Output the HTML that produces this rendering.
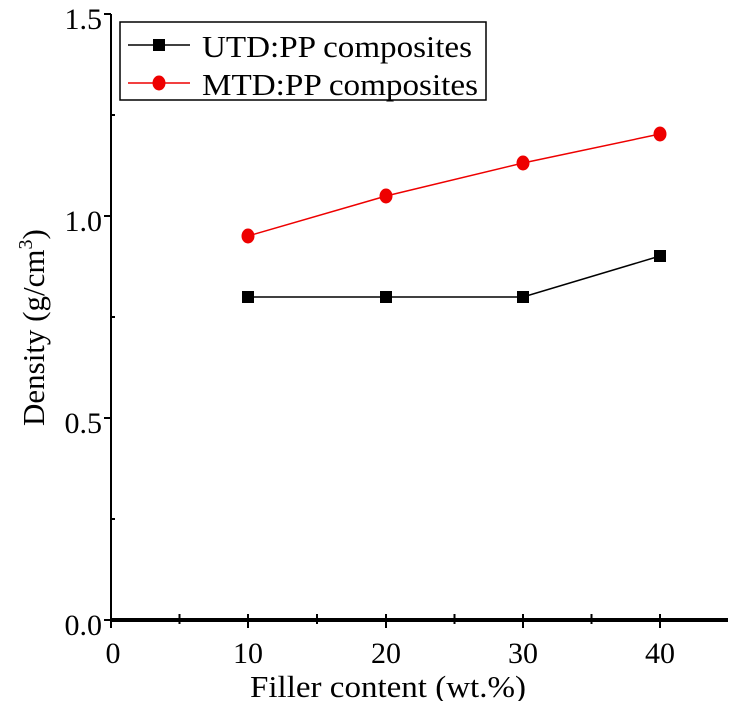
<!DOCTYPE html><html><head><style>body{margin:0;background:#fff}svg{display:block}text{font-family:"Liberation Serif",serif;fill:#000}</style></head><body>
<svg width="730" height="701" viewBox="0 0 730 701">
<line x1="111" y1="14" x2="111" y2="622" stroke="#000" stroke-width="2"/>
<line x1="104" y1="14" x2="111" y2="14" stroke="#000" stroke-width="2"/>
<line x1="104" y1="216" x2="111" y2="216" stroke="#000" stroke-width="2"/>
<line x1="104" y1="418" x2="111" y2="418" stroke="#000" stroke-width="2"/>
<line x1="104" y1="620" x2="111" y2="620" stroke="#000" stroke-width="2"/>
<line x1="111" y1="115" x2="115" y2="115" stroke="#000" stroke-width="2"/>
<line x1="111" y1="317" x2="115" y2="317" stroke="#000" stroke-width="2"/>
<line x1="111" y1="519" x2="115" y2="519" stroke="#000" stroke-width="2"/>
<line x1="110" y1="620" x2="728" y2="620" stroke="#000" stroke-width="4"/>
<g stroke="#000" stroke-width="2">
<line x1="111" y1="620" x2="111" y2="628"/><line x1="179.5" y1="614" x2="179.5" y2="624"/>
<line x1="248" y1="614" x2="248" y2="628"/><line x1="317" y1="614" x2="317" y2="624"/>
<line x1="386" y1="614" x2="386" y2="628"/><line x1="454.5" y1="614" x2="454.5" y2="624"/>
<line x1="523" y1="614" x2="523" y2="628"/><line x1="591.5" y1="614" x2="591.5" y2="624"/>
<line x1="660" y1="614" x2="660" y2="628"/>
</g>
<g font-size="30" text-anchor="end">
<text x="102" y="29">1.5</text><text x="102" y="231">1.0</text><text x="102" y="433">0.5</text><text x="102" y="635">0.0</text>
</g>
<g font-size="30" text-anchor="middle">
<text x="113" y="663">0</text><text x="248" y="663">10</text><text x="386" y="663">20</text><text x="523" y="663">30</text><text x="660" y="663">40</text>
</g>
<text x="250" y="697" font-size="31" textLength="276" lengthAdjust="spacingAndGlyphs">Filler content (wt.%)</text>
<text font-size="31" transform="translate(44,426) rotate(-90)">Density (g/cm<tspan font-size="20" dy="-12">3</tspan><tspan dy="12">)</tspan></text>
<polyline points="248,297 386,297 523,297 660,256" fill="none" stroke="#000" stroke-width="1.5"/>
<g fill="#000"><rect x="242" y="291" width="12" height="12"/><rect x="380" y="291" width="12" height="12"/><rect x="517" y="291" width="12" height="12"/><rect x="654" y="250" width="12" height="12"/></g>
<polyline points="248,236 386,196 523,163 660,134" fill="none" stroke="#e00" stroke-width="1.5"/>
<g fill="#e00"><ellipse cx="248" cy="236" rx="6.5" ry="7.5"/><ellipse cx="386" cy="196" rx="6.5" ry="7.5"/><ellipse cx="523" cy="163" rx="6.5" ry="7.5"/><ellipse cx="660" cy="134" rx="6.5" ry="7.5"/></g>
<rect x="120" y="22" width="366" height="78" fill="none" stroke="#000" stroke-width="1.5"/>
<line x1="128" y1="45" x2="190" y2="45" stroke="#000" stroke-width="1.5"/>
<rect x="153" y="39" width="12" height="12" fill="#000"/>
<text x="202" y="57" font-size="31" textLength="270" lengthAdjust="spacingAndGlyphs">UTD:PP composites</text>
<line x1="128" y1="83" x2="190" y2="83" stroke="#e00" stroke-width="1.5"/>
<ellipse cx="159" cy="83" rx="6.5" ry="7.5" fill="#e00"/>
<text x="202" y="95" font-size="31" textLength="276" lengthAdjust="spacingAndGlyphs">MTD:PP composites</text>
</svg></body></html>
